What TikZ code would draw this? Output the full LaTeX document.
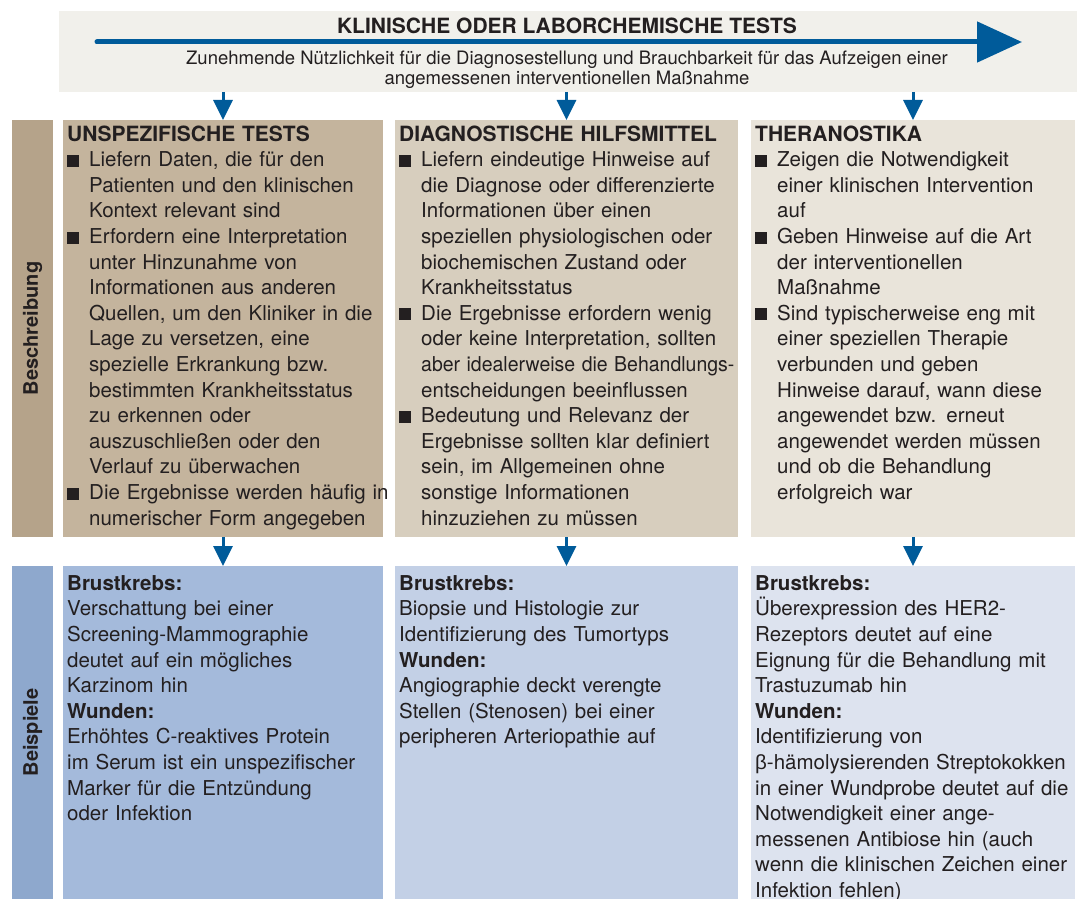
\documentclass[tikz,border=0pt]{standalone}
\usepackage{fontspec}
\setmainfont{TeX Gyre Heros}
\newfontfamily\greekfont{Liberation Sans}
\usetikzlibrary{arrows.meta,positioning}

\definecolor{ink}{HTML}{231F20}
\definecolor{flowblue}{HTML}{005B9A}
\definecolor{headbg}{HTML}{F1F0EB}
\definecolor{descside}{HTML}{B5A38A}
\definecolor{descA}{HTML}{C4B49D}
\definecolor{descB}{HTML}{D7CEBE}
\definecolor{descC}{HTML}{E9E4DA}
\definecolor{exside}{HTML}{8EA8CD}
\definecolor{exA}{HTML}{A4BADB}
\definecolor{exB}{HTML}{C3D0E6}
\definecolor{exC}{HTML}{DDE3EF}

\newcommand{\txtfont}{\fontsize{20.5}{25.6}\selectfont}
\newcommand{\hdfont}{\fontsize{21}{25.6}\selectfont\bfseries}
% square bullet with hanging indent
\newcommand{\bpt}{\par\hangindent=22pt\hangafter=1\noindent
  \makebox[22pt][l]{\rule{12pt}{12pt}}}

\begin{document}
\begin{tikzpicture}[x=1pt,y=-1pt,
  panel/.style={inner sep=0pt, outer sep=0pt, anchor=north west},
  celltext/.style={anchor=north west, inner sep=0pt, text=ink, align=left, font=\txtfont},
  flow/.style={draw=flowblue, line width=3pt, -{Triangle[length=20pt,width=19pt]}},
  sidelabel/.style={rotate=90, text=ink, font=\fontsize{20}{24}\selectfont\bfseries}]

\useasboundingbox (0,0) rectangle (1077,899);

% header band
\node[panel, fill=headbg, minimum width=1018pt, minimum height=81pt] (head) at (59,11) {};
\coordinate (arrL) at (97,42);
\coordinate (arrR) at (1022,42);
\draw[draw=flowblue, line width=5pt, line cap=round,
  -{Triangle[length=45pt,width=40pt]}] (arrL) -- (arrR);
\node[text=ink, font=\fontsize{21}{24}\selectfont\bfseries, anchor=base] (title) at (567,34)
  {KLINISCHE ODER LABORCHEMISCHE TESTS};
\node[text=ink, font=\fontsize{18.5}{19.5}\selectfont, align=center, anchor=north, inner sep=0pt] (sub) at (567,51)
  {Zunehmende Nützlichkeit für die Diagnosestellung und Brauchbarkeit für das Aufzeigen einer\\
   angemessenen interventionellen Maßnahme};

% side labels
\node[panel, fill=descside, minimum width=41pt, minimum height=417pt] (sideD) at (12,120) {};
\node[sidelabel] at (sideD.center) {Beschreibung};
\node[panel, fill=exside, minimum width=41pt, minimum height=333pt] (sideE) at (12,566) {};
\node[sidelabel] at (sideE.center) {Beispiele};

% description row
\node[panel, fill=descA, minimum width=320pt, minimum height=417pt] (dA) at (63,120) {};
\node[panel, fill=descB, minimum width=343pt, minimum height=417pt] (dB) at (395,120) {};
\node[panel, fill=descC, minimum width=324pt, minimum height=417pt] (dC) at (751,120) {};

% examples row
\node[panel, fill=exA, minimum width=320pt, minimum height=333pt] (eA) at (63,566) {};
\node[panel, fill=exB, minimum width=343pt, minimum height=333pt] (eB) at (395,566) {};
\node[panel, fill=exC, minimum width=324pt, minimum height=333pt] (eC) at (751,566) {};

\foreach \p in {A,B,C} {
  \draw[flow] (head.south -| d\p.north) -- (d\p.north);
  \draw[flow] (d\p.south) -- (e\p.north);
}

\node[celltext, text width=360pt] (dAtxt) at ([xshift=4pt]dA.north west) {%
  \rule{0pt}{21pt}{\hdfont UNSPEZIFISCHE TESTS}
  \bpt Liefern Daten, die für den\newline Patienten und den klinischen\newline Kontext relevant sind
  \bpt Erfordern eine Interpretation\newline unter Hinzunahme von\newline Informationen aus anderen\newline
    Quellen, um den Kliniker in die\newline Lage zu versetzen, eine\newline spezielle Erkrankung bzw.\newline
    bestimmten Krankheitsstatus\newline zu erkennen oder\newline auszuschließen oder den\newline
    Verlauf zu überwachen
  \bpt Die Ergebnisse werden häufig in\newline numerischer Form angegeben\par};

\node[celltext, text width=380pt] (dBtxt) at ([xshift=4pt]dB.north west) {%
  \rule{0pt}{21pt}{\hdfont DIAGNOSTISCHE HILFSMITTEL}
  \bpt Liefern eindeutige Hinweise auf\newline die Diagnose oder differenzierte\newline
    Informationen über einen\newline speziellen physiologischen oder\newline
    biochemischen Zustand oder\newline Krankheitsstatus
  \bpt Die Ergebnisse erfordern wenig\newline oder keine Interpretation, sollten\newline
    \scalebox{0.95}[1]{aber idealerweise die Behandlungs-}\newline entscheidungen beeinflussen
  \bpt Bedeutung und Relevanz der\newline Ergebnisse sollten klar definiert\newline
    sein, im Allgemeinen ohne\newline sonstige Informationen\newline hinzuziehen zu müssen\par};

\node[celltext, text width=360pt] (dCtxt) at ([xshift=4pt]dC.north west) {%
  \rule{0pt}{21pt}{\hdfont THERANOSTIKA}
  \bpt Zeigen die Notwendigkeit\newline einer klinischen Intervention\newline auf
  \bpt Geben Hinweise auf die Art\newline der interventionellen\newline Maßnahme
  \bpt Sind typischerweise eng mit\newline einer speziellen Therapie\newline verbunden und geben\newline
    Hinweise darauf, wann diese\newline angewendet bzw. erneut\newline angewendet werden müssen\newline
    und ob die Behandlung\newline erfolgreich war\par};

\node[celltext, text width=360pt] (eAtxt) at ([xshift=4pt]eA.north west) {%
  \rule{0pt}{24pt}\textbf{Brustkrebs:}\\
  Verschattung bei einer\\ Screening-Mammographie\\ deutet auf ein mögliches\\ Karzinom hin\\
  \textbf{Wunden:}\\
  Erhöhtes C-reaktives Protein\\ im Serum ist ein unspezifischer\\ Marker für die Entzündung\\ oder Infektion};

\node[celltext, text width=380pt] (eBtxt) at ([xshift=4pt]eB.north west) {%
  \rule{0pt}{24pt}\textbf{Brustkrebs:}\\
  Biopsie und Histologie zur\\ Identifizierung des Tumortyps\\
  \textbf{Wunden:}\\
  Angiographie deckt verengte\\ Stellen (Stenosen) bei einer\\ peripheren Arteriopathie auf};

\node[celltext, text width=360pt] (eCtxt) at ([xshift=4pt]eC.north west) {%
  \rule{0pt}{24pt}\textbf{Brustkrebs:}\\
  Überexpression des HER2-\\ Rezeptors deutet auf eine\\ Eignung für die Behandlung mit\\ Trastuzumab hin\\
  \textbf{Wunden:}\\
  Identifizierung von\\ {\greekfont β}-hämolysierenden Streptokokken\\ in einer Wundprobe deutet auf die\\
  Notwendigkeit einer ange-\\ messenen Antibiose hin (auch\\ wenn die klinischen Zeichen einer\\ Infektion fehlen)};
\end{tikzpicture}
\end{document}
